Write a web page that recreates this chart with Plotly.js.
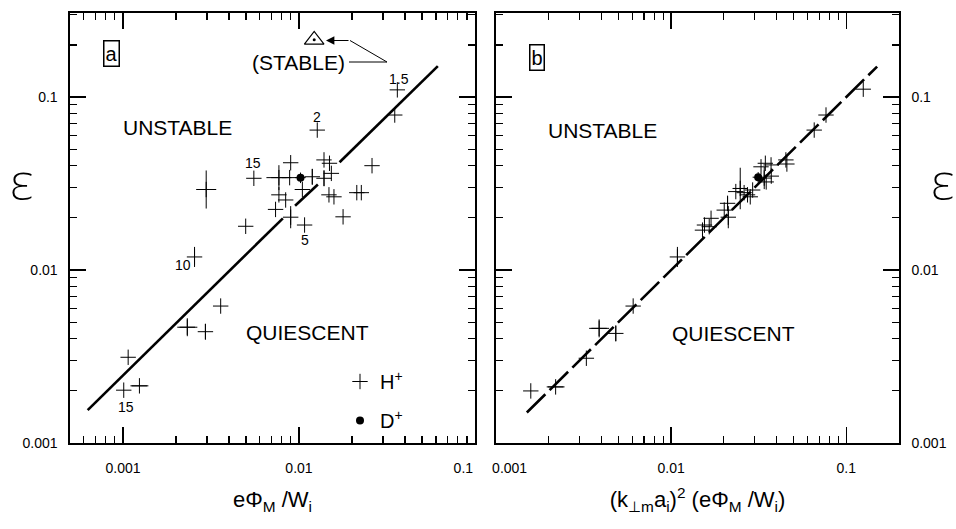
<!DOCTYPE html>
<html>
<head>
<meta charset="utf-8">
<script src="https://cdn.plot.ly/plotly-3.0.1.min.js"></script>
<style>html,body{margin:0;padding:0;background:#fff;}#chart{width:956px;height:529px;}</style>
</head>
<body>
<div id="chart"></div>
<script>
// ---- Panel a : eΦM/Wi vs ε ----
const hA_x = [0.0362, 0.035, 0.0127, 0.00554, 0.00769, 0.00897, 0.00885, 0.0119, 0.01045, 0.01387, 0.0149, 0.01387, 0.01527, 0.0148, 0.0158, 0.0213, 0.0226, 0.026, 0.0178, 0.01076, 0.00897, 0.00736, 0.00769, 0.0084, 0.00498, 0.00297, 0.00255, 0.00359, 0.00232, 0.00294, 0.00107, 0.00101, 0.00124];
const hA_y = [0.11, 0.0787, 0.0644, 0.0339, 0.0342, 0.0417, 0.0342, 0.0346, 0.0292, 0.0433, 0.0414, 0.0339, 0.0362, 0.0272, 0.0265, 0.028, 0.028, 0.0401, 0.0203, 0.0182, 0.0202, 0.0224, 0.0272, 0.0254, 0.0179, 0.0292, 0.0119, 0.00619, 0.00467, 0.0044, 0.00313, 0.00202, 0.00214];
// error half-widths in decades
const hA_dx = [0,0,0,0,0.071,0,0,0,0,0,0,0,0,0,0,0,0,0,0,0,0,0,0,0,0,0.057,0,0,0.057,0,0,0,0.051];
const hA_dy = [0,0,0,0,0.072,0,0,0.046,0,0,0,0.046,0,0,0,0,0,0,0,0,0.064,0,0,0,0,0.11,0.058,0,0.052,0.046,0,0,0];
const dA_x = [0.0102];
const dA_y = [0.0342];
const stable_x = [0.0122];
const stable_y = [0.214];
const fitA_x = [0.00063, 0.0081, null, 0.0095, 0.0128, null, 0.017, 0.0615];
const fitA_y = [0.00155, 0.0199, null, 0.0235, 0.0312, null, 0.042, 0.151];
const pointLabels = ["1.5", "2", "15", "5", "10", "15"];
const pointLabelIdx = [0, 2, 3, 19, 26, 31];

// ---- Panel b : (k⊥m ai)^2 (eΦM/Wi) vs ε ----
const hB_x = [0.125, 0.0766, 0.0656, 0.0452, 0.0458, 0.0372, 0.0326, 0.0345, 0.034, 0.0349, 0.0373, 0.0248, 0.0234, 0.0261, 0.0273, 0.0283, 0.0292, 0.021, 0.0201, 0.0212, 0.0169, 0.0155, 0.0151, 0.0165, 0.01086, 0.00607, 0.00388, 0.00483, 0.00328, 0.00158, 0.00219];
const hB_y = [0.111, 0.0787, 0.0644, 0.0433, 0.041, 0.0405, 0.0395, 0.0414, 0.034, 0.0323, 0.0349, 0.0296, 0.0284, 0.028, 0.0272, 0.0265, 0.029, 0.0243, 0.0222, 0.0202, 0.0199, 0.0182, 0.017, 0.0178, 0.0119, 0.00619, 0.0046, 0.0043, 0.00309, 0.002, 0.00211];
const hB_dx = [0,0,0,0,0,0,0,0,0,0,0,0.04,0,0,0,0,0,0,0,0,0,0,0,0,0,0,0.057,0,0,0,0.051];
const hB_dy = [0,0,0,0,0,0,0,0,0.064,0,0,0.12,0,0,0,0,0,0.04,0,0.064,0,0,0,0,0.058,0,0.052,0.046,0,0,0];
const dB_x = [0.0314];
const dB_y = [0.0344];
const fitB_x = [0.0015, 0.15];
const fitB_y = [0.0015, 0.15];

const tickVals = [0.001, 0.01, 0.1];
const NB = "\u00a0";
const tickTextXa = ["0.001", "0.01", "0.1" + NB.repeat(6)];
const tickTextXb = [NB.repeat(7) + "0.001", "0.01", "0.1"];
const tickTextY = ["0.001", "0.01", "0.1"];

function plusErr(v, d) { return v.map((a, i) => a * (Math.pow(10, d[i]) - 1)); }
function minusErr(v, d) { return v.map((a, i) => a * (1 - Math.pow(10, -d[i]))); }
const L = Math.log10;

const minorVals = [];
[0.0001, 0.001, 0.01, 0.1].forEach(dec => { for (let k = 2; k <= 9; k++) minorVals.push(dec * k); });

const FONT = "Liberation Sans, Arial, sans-serif";
const errStyle = {color: "black", thickness: 1, width: 0};

function hTrace(x, y, dx, dy, xa, ya, show) {
  return {
    x: x, y: y, xaxis: xa, yaxis: ya, type: "scatter", mode: "markers",
    name: "H<sup>+</sup>", showlegend: show, legendgroup: "h",
    marker: {symbol: "cross-thin-open", size: 11, color: "black", line: {color: "black", width: 1}},
    error_x: Object.assign({type: "data", symmetric: false, array: plusErr(x, dx), arrayminus: minusErr(x, dx)}, errStyle),
    error_y: Object.assign({type: "data", symmetric: false, array: plusErr(y, dy), arrayminus: minusErr(y, dy)}, errStyle),
    hoverinfo: "x+y"
  };
}
function dTrace(x, y, xa, ya, show) {
  return {
    x: x, y: y, xaxis: xa, yaxis: ya, type: "scatter", mode: "markers",
    name: "D<sup>+</sup>", showlegend: show, legendgroup: "d",
    marker: {symbol: "circle", size: 8, color: "black"},
    error_x: Object.assign({type: "percent", value: 7}, errStyle),
    error_y: Object.assign({type: "percent", value: 7}, errStyle)
  };
}

const data = [
  {x: fitA_x, y: fitA_y, xaxis: "x", yaxis: "y", mode: "lines", connectgaps: false, showlegend: false,
   line: {color: "black", width: 2.6}},
  {x: fitB_x, y: fitB_y, xaxis: "x2", yaxis: "y2", mode: "lines", showlegend: false,
   line: {color: "black", width: 2.6, dash: "26px,6px"}},
  hTrace(hA_x, hA_y, hA_dx, hA_dy, "x", "y", true),
  dTrace(dA_x, dA_y, "x", "y", true),
  hTrace(hB_x, hB_y, hB_dx, hB_dy, "x2", "y2", false),
  dTrace(dB_x, dB_y, "x2", "y2", false),
  {x: stable_x, y: stable_y, xaxis: "x", yaxis: "y", mode: "markers", showlegend: false,
   marker: {symbol: "triangle-up-open", size: 17, color: "black", line: {color: "black", width: 1.2}}},
  {x: stable_x, y: stable_y, xaxis: "x", yaxis: "y", mode: "markers", showlegend: false,
   marker: {symbol: "circle", size: 3, color: "black"}}
];

const W = 956, H = 529;
const px = v => v / W, py = v => 1 - v / H;
const yDom = [py(443), py(13)];
const xDomA = [px(70), px(475)], xDomB = [px(496), px(899)];
const xRangeA = [L(0.0005), -1], xRangeB = [-3, L(0.2)], yRange = [-3, L(0.306)];
const tickFont = {family: FONT, size: 14, color: "black"};

function baseAxis(range, ticktext, standoff) {
  return {
    type: "log", range: range, autorange: false,
    tickmode: "array", tickvals: tickVals, ticktext: ticktext,
    ticks: "inside", ticklen: 16, tickwidth: 1.3, tickcolor: "black",
    minor: {tickmode: "array", tickvals: minorVals, ticks: "inside", ticklen: 7, tickwidth: 1.1, tickcolor: "black"},
    showline: true, linewidth: 1.6, linecolor: "black", mirror: "allticks",
    showgrid: false, zeroline: false, ticklabelstandoff: standoff,
    tickfont: tickFont
  };
}

const xa = Object.assign(baseAxis(xRangeA, tickTextXa, 12), {domain: xDomA, anchor: "y"});
xa.title = {text: "eΦ<sub>M</sub> /W<sub>i</sub>", font: {family: FONT, size: 22, color: "black"}, standoff: 16};
const xb = Object.assign(baseAxis(xRangeB, tickTextXb, 12), {domain: xDomB, anchor: "y2"});
xb.title = {text: "(k<sub>⊥m</sub>a<sub>i</sub>)<sup>2</sup> (eΦ<sub>M</sub> /W<sub>i</sub>)", font: {family: FONT, size: 22, color: "black"}, standoff: 16};
const ya = Object.assign(baseAxis(yRange, tickTextY, 8), {domain: yDom, anchor: "x", side: "left"});
const yb = Object.assign(baseAxis(yRange, tickTextY, 8), {domain: yDom, anchor: "x2", side: "right"});

const txt = size => ({family: FONT, size: size, color: "black"});
const C = {xanchor: "center", yanchor: "middle", showarrow: false, xref: "paper", yref: "paper"};
const epsFont = {family: "Noto Sans, DejaVu Sans, sans-serif", size: 50, weight: 200, color: "black"};
const annotations = [
  Object.assign({x: px(111), y: py(54), text: "a", font: txt(20), bordercolor: "black", borderwidth: 1.5, borderpad: 1}, C),
  Object.assign({x: px(537), y: py(57), text: "b", font: txt(20), bordercolor: "black", borderwidth: 1.5, borderpad: 1}, C),
  Object.assign({x: px(177), y: py(128), text: "UNSTABLE", font: txt(21)}, C),
  Object.assign({x: px(602), y: py(130), text: "UNSTABLE", font: txt(21)}, C),
  Object.assign({x: px(307), y: py(332), text: "QUIESCENT", font: txt(21)}, C),
  Object.assign({x: px(733), y: py(333), text: "QUIESCENT", font: txt(21)}, C),
  Object.assign({x: px(298), y: py(62), text: "(STABLE)", font: txt(21)}, C),
  Object.assign({x: px(21), y: py(181), text: "ε", font: epsFont}, C),
  Object.assign({x: px(942), y: py(181), text: "ε", font: epsFont}, C),
  {xref: "paper", yref: "paper", x: px(326), y: py(40.5), text: "", showarrow: true, ax: 24, ay: 0,
   arrowhead: 2, arrowsize: 1.4, arrowwidth: 1.2, arrowcolor: "black"}
];
const shifts = [[2, 11], [0, 13], [-1, 15], [0, -15], [-12, -8], [2, -17]];
pointLabels.forEach((t, i) => {
  const k = pointLabelIdx[i];
  annotations.push({xref: "x", yref: "y", x: L(hA_x[k]), y: L(hA_y[k]), text: t, showarrow: false,
    xanchor: "center", yanchor: "middle", xshift: shifts[i][0], yshift: shifts[i][1], font: txt(14)});
});

const layout = {
  width: W, height: H,
  margin: {l: 0, r: 0, t: 0, b: 0},
  paper_bgcolor: "white", plot_bgcolor: "white",
  font: {family: FONT, color: "black"},
  xaxis: xa, yaxis: ya, xaxis2: xb, yaxis2: yb,
  showlegend: true,
  legend: {x: px(340), y: py(362), xanchor: "left", yanchor: "top", bgcolor: "rgba(0,0,0,0)",
    font: {family: FONT, size: 20, color: "black"}, tracegroupgap: 10, traceorder: "grouped"},
  annotations: annotations,
  shapes: [
    {type: "path", xref: "paper", yref: "paper",
     path: "M " + px(349) + " " + py(62) + " L " + px(387) + " " + py(62) + " L " + px(350) + " " + py(40.5),
     line: {color: "black", width: 1}}
  ]
};

Plotly.newPlot("chart", data, layout, {displayModeBar: false, staticPlot: true});
</script>
</body>
</html>
